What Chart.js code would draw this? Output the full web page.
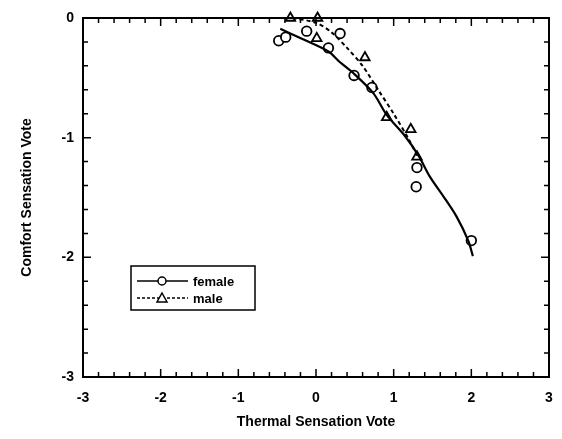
<!DOCTYPE html>
<html lang="en">
<head>
    <meta charset="UTF-8">
    <title>Comfort vs Thermal Sensation</title>
    <script src="https://cdn.jsdelivr.net/npm/chart.js"></script>
    <style>
        body {
            margin: 0;
            background-color: #ffffff;
        }
    </style>
</head>
<body>
    <canvas id="chart" width="562" height="439"></canvas>

    <script>
        // female observations (circles)
        const femaleX = [-0.48, -0.39, -0.12, 0.16, 0.31, 0.49, 0.72, 1.29, 1.30, 2.00];
        const femaleY = [-0.19, -0.16, -0.11, -0.25, -0.13, -0.48, -0.58, -1.41, -1.25, -1.86];
        // male observations (triangles)
        const maleX = [-0.33, 0.02, 0.01, 0.63, 0.91, 1.22, 1.30];
        const maleY = [0.0, 0.0, -0.17, -0.33, -0.83, -0.93, -1.16];
        // fitted curves
        const femaleFitX = [-0.46, -0.16, 0.16, 0.31, 0.48, 0.74, 0.91, 1.15, 1.32, 1.47, 1.64, 1.81, 1.96, 2.02];
        const femaleFitY = [-0.09, -0.18, -0.28, -0.37, -0.46, -0.63, -0.81, -0.99, -1.15, -1.33, -1.49, -1.66, -1.86, -1.99];
        const maleFitX = [-0.30, 0.0, 0.2, 0.4, 0.6, 0.8, 1.0, 1.2, 1.3];
        const maleFitY = [0.0, -0.04, -0.12, -0.25, -0.40, -0.60, -0.80, -1.02, -1.15];
        // axes
        const xTicks = [-3, -2, -1, 0, 1, 2, 3];
        const yTicks = [-3, -2, -1, 0];

        const toPoints = (xs, ys) => xs.map((x, i) => ({ x: x, y: ys[i] }));
        const font = 'Liberation Sans, Arial, sans-serif';

        // frame with inward ticks on all four sides + legend box
        const framePlugin = {
            id: 'frame',
            afterDraw(chart) {
                const c = chart.ctx;
                const a = chart.chartArea;
                const xs = chart.scales.x;
                const ys = chart.scales.y;
                c.save();
                c.strokeStyle = '#000';
                c.lineWidth = 2;
                c.strokeRect(a.left, a.top, a.right - a.left, a.bottom - a.top);
                c.lineWidth = 1.5;
                c.beginPath();
                for (let v = -3; v <= 3.001; v += 0.2) {
                    const p = xs.getPixelForValue(v);
                    const len = Math.abs(v - Math.round(v)) < 0.01 ? 8 : 5;
                    c.moveTo(p, a.bottom); c.lineTo(p, a.bottom - len);
                    c.moveTo(p, a.top); c.lineTo(p, a.top + len);
                }
                for (let v = -3; v <= 0.001; v += 0.2) {
                    const p = ys.getPixelForValue(v);
                    const len = Math.abs(v - Math.round(v)) < 0.01 ? 8 : 5;
                    c.moveTo(a.left, p); c.lineTo(a.left + len, p);
                    c.moveTo(a.right, p); c.lineTo(a.right - len, p);
                }
                c.stroke();

                // legend
                const bx = 131, by = 266, bw = 124, bh = 44;
                c.lineWidth = 1.5;
                c.strokeRect(bx, by, bw, bh);
                const rows = [
                    { label: 'female', dash: [], style: 'circle', y: by + 15 },
                    { label: 'male', dash: [3, 2], style: 'triangle', y: by + 32 }
                ];
                rows.forEach(r => {
                    c.setLineDash(r.dash);
                    c.lineWidth = 1.5;
                    c.beginPath();
                    c.moveTo(bx + 6, r.y); c.lineTo(bx + 57, r.y);
                    c.stroke();
                    c.setLineDash([]);
                    c.fillStyle = '#fff';
                    c.lineWidth = 1.5;
                    c.beginPath();
                    const mx = bx + 31;
                    if (r.style === 'circle') {
                        c.arc(mx, r.y, 4, 0, Math.PI * 2);
                    } else {
                        c.moveTo(mx, r.y - 5); c.lineTo(mx + 5, r.y + 4); c.lineTo(mx - 5, r.y + 4); c.closePath();
                    }
                    c.fill();
                    c.stroke();
                    c.fillStyle = '#000';
                    c.font = 'bold 13px ' + font;
                    c.textBaseline = 'middle';
                    c.fillText(r.label, bx + 62, r.y + 1);
                });
                c.restore();
            }
        };

        const ctx = document.getElementById('chart').getContext('2d');
        new Chart(ctx, {
            type: 'scatter',
            data: {
                datasets: [
                    {
                        label: 'female fit',
                        data: toPoints(femaleFitX, femaleFitY),
                        showLine: true,
                        borderColor: '#000',
                        borderWidth: 2.2,
                        pointRadius: 0,
                        tension: 0.3,
                        clip: false
                    },
                    {
                        label: 'male fit',
                        data: toPoints(maleFitX, maleFitY),
                        showLine: true,
                        borderColor: '#000',
                        borderWidth: 2,
                        borderDash: [4, 3],
                        pointRadius: 0,
                        tension: 0.3,
                        clip: false
                    },
                    {
                        label: 'female',
                        data: toPoints(femaleX, femaleY),
                        pointStyle: 'circle',
                        pointRadius: 4.8,
                        backgroundColor: '#fff',
                        borderColor: '#000',
                        borderWidth: 1.8,
                        clip: false
                    },
                    {
                        label: 'male',
                        data: toPoints(maleX, maleY),
                        pointStyle: 'triangle',
                        pointRadius: 5.5,
                        backgroundColor: '#fff',
                        borderColor: '#000',
                        borderWidth: 1.8,
                        clip: false
                    }
                ]
            },
            options: {
                responsive: false,
                animation: false,
                layout: { padding: { top: 18, right: 13, left: 0, bottom: 0 } },
                plugins: {
                    legend: { display: false },
                    tooltip: { enabled: false }
                },
                scales: {
                    x: {
                        type: 'linear',
                        min: -3,
                        max: 3,
                        afterFit: s => { s.height = 62; s.paddingLeft = 0; s.paddingRight = 0; },
                        afterBuildTicks: s => { s.ticks = xTicks.map(v => ({ value: v })); },
                        grid: { display: false, drawTicks: false },
                        border: { display: false },
                        ticks: {
                            color: '#000',
                            padding: 13,
                            font: { family: font, size: 14, weight: 'bold' }
                        },
                        title: {
                            display: true,
                            text: 'Thermal Sensation Vote',
                            color: '#000',
                            padding: { top: 4, bottom: 8 },
                            font: { family: font, size: 14, weight: 'bold' }
                        }
                    },
                    y: {
                        type: 'linear',
                        min: -3,
                        max: 0,
                        afterFit: s => { s.width = 83; s.paddingTop = 0; s.paddingBottom = 0; },
                        afterBuildTicks: s => { s.ticks = yTicks.map(v => ({ value: v })); },
                        grid: { display: false, drawTicks: false },
                        border: { display: false },
                        ticks: {
                            color: '#000',
                            padding: 9,
                            font: { family: font, size: 14, weight: 'bold' }
                        },
                        title: {
                            display: true,
                            text: 'Comfort Sensation Vote',
                            color: '#000',
                            padding: { top: 19, bottom: 4 },
                            font: { family: font, size: 14, weight: 'bold' }
                        }
                    }
                }
            },
            plugins: [framePlugin]
        });
    </script>
</body>
</html>
